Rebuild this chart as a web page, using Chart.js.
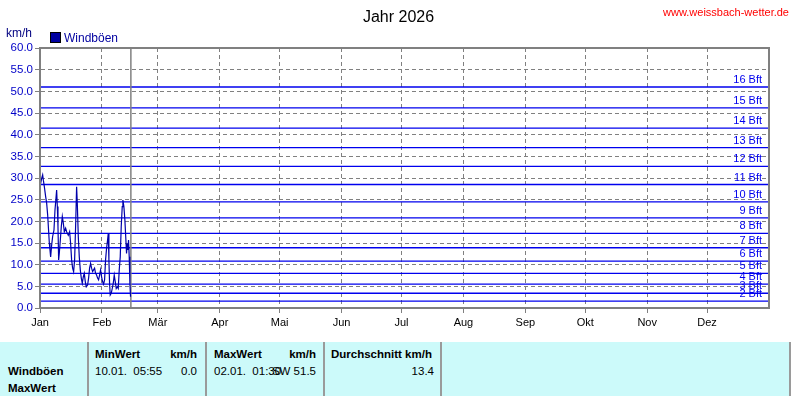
<!DOCTYPE html>
<html>
<head>
<meta charset="utf-8">
<script src="https://cdn.jsdelivr.net/npm/chart.js@4.4.1/dist/chart.umd.min.js"></script>
<style>
body { margin:0; background:#fff; font-family:"Liberation Sans", Arial, sans-serif; }
#wrap { position:relative; width:797px; height:396px; overflow:hidden; }
#box { position:absolute; left:0; top:0; width:797px; height:335px; }
.t { position:absolute; white-space:pre; line-height:1; }
.r { text-align:right; }
.b { font-weight:bold; }
#tab { position:absolute; left:0; top:342px; width:791px; height:54px; background:#ccfafa; font-size:11.5px; color:#000; }
.sep { position:absolute; top:0; width:2px; height:54px; background:#9a9a9a; }
</style>
</head>
<body>
<div id="wrap">
  <div id="box"><canvas id="windChart"></canvas></div>
  <div class="t" style="left:0;width:797px;text-align:center;top:9px;font-size:16px;">Jahr 2026</div>
  <div class="t r" style="right:8px;top:7px;font-size:11px;color:#ff0000;">www.weissbach-wetter.de</div>
  <div class="t" style="left:6px;top:27px;font-size:12px;color:#000080;">km/h</div>
  <div style="position:absolute;left:50px;top:32px;width:9px;height:9px;background:#0000a0;border:1px solid #000;"></div>
  <div class="t" style="left:64px;top:32px;font-size:12px;color:#0000a0;">Windböen</div>

  <div id="tab">
    <div class="t b" style="left:8px;top:24px;">Windböen</div>
    <div class="t b" style="left:8px;top:41px;">MaxWert</div>
    <div class="sep" style="left:87px;"></div>
    <div class="t b" style="left:95px;top:7px;">MinWert</div>
    <div class="t b r" style="left:140px;width:57px;top:7px;">km/h</div>
    <div class="t" style="left:95px;top:24px;">10.01.  05:55</div>
    <div class="t r" style="left:160px;width:37px;top:24px;">0.0</div>
    <div class="sep" style="left:205px;"></div>
    <div class="t b" style="left:214px;top:7px;">MaxWert</div>
    <div class="t b r" style="left:260px;width:56px;top:7px;">km/h</div>
    <div class="t" style="left:214px;top:24px;">02.01.  01:30</div>
    <div class="t r" style="left:270px;width:46px;top:24px;">SW 51.5</div>
    <div class="sep" style="left:323px;"></div>
    <div class="t b" style="left:331px;top:7px;">Durchschnitt km/h</div>
    <div class="t r" style="left:380px;width:54px;top:24px;">13.4</div>
    <div class="sep" style="left:440px;"></div>
    <div class="sep" style="left:789px;"></div>
  </div>
</div>
<script>
// Tage seit 1. Januar
var days = [0, 0.83, 1.33, 1.67, 2.17, 2.83, 3.33, 3.83, 4.33, 4.67, 5, 5.33, 5.83, 6.33, 7, 7.5,
    8, 8.33, 8.67, 9, 9.33, 9.67, 10.17, 10.67, 11.17, 11.67, 12.17, 12.83, 13.33, 14.17, 14.83,
    15.33, 15.83, 16.33, 16.83, 17.33, 17.83, 18.33, 18.67, 19.17, 19.67, 20.17, 20.67, 21.17,
    21.67, 22.17, 22.67, 23.17, 23.83, 24.33, 24.83, 25.33, 25.83, 26.33, 26.83, 27.33, 27.83,
    28.33, 28.83, 29.33, 29.83, 30.33, 30.83, 31.33, 31.83, 32.33, 32.83, 33.33, 33.83, 34.17,
    34.5, 34.83, 35.17, 35.67, 36.17, 36.67, 37.17, 37.67, 38.17, 38.67, 39.17, 39.67, 40.17,
    40.67, 41.17, 41.5, 42, 42.5, 43, 43.33, 43.67, 44, 44.33, 44.67, 45, 45.33];
// Windböen km/h
var gusts = [28.0, 29.9, 30.7, 29.5, 28.0, 25.7, 24.2, 21.5, 17.6, 15.0, 13.4, 11.8, 14.5, 16.5,
    18.0, 22.6, 25.3, 27.2, 23.4, 18.8, 11.1, 12.7, 15.7, 18.8, 21.1, 19.6, 17.6, 18.4, 17.6,
    16.8, 17.6, 14.9, 11.1, 9.2, 8.4, 11.1, 18.8, 28.0, 24.2, 16.5, 11.8, 8.8, 6.9, 5.7, 7.2,
    8.0, 6.1, 4.9, 5.3, 6.9, 9.2, 10.3, 9.2, 8.4, 8.8, 9.2, 8.0, 7.6, 6.9, 6.5, 7.6, 8.8, 7.2,
    6.1, 5.5, 6.5, 11.1, 13.8, 15.7, 17.2, 11.1, 5.7, 3.0, 3.4, 4.5, 5.7, 7.6, 6.1, 4.5, 4.9,
    4.5, 8.8, 11.8, 18.8, 23.4, 24.9, 23.4, 20.3, 15.7, 12.6, 14.9, 13.4, 15.7, 11.8, 5.7, 2.6];

var monthStarts = [0, 31, 59, 90, 120, 151, 181, 212, 243, 273, 304, 334];
var monthNames = ["Jan", "Feb", "Mär", "Apr", "Mai", "Jun", "Jul", "Aug", "Sep", "Okt", "Nov", "Dez"];
var bftLevels = [1.6, 3.4, 5.5, 8.0, 10.8, 13.9, 17.2, 20.8, 24.5, 28.5, 32.7, 37.0, 41.5, 46.2, 51.0];
var bftNames = ["2 Bft", "3 Bft", "4 Bft", "5 Bft", "6 Bft", "7 Bft", "8 Bft", "9 Bft", "10 Bft",
    "11 Bft", "12 Bft", "13 Bft", "14 Bft", "15 Bft", "16 Bft"];
var today = 45.5;

var FONT = '"Liberation Sans", Arial, sans-serif';

var datasets = [{
    label: "Windböen",
    data: days.map(function (d, i) { return {x: d, y: gusts[i]}; }),
    borderColor: "#0000aa",
    borderWidth: 1.2,
    pointRadius: 0,
    order: 0
}, {
    label: "heute",
    data: [{x: today, y: 0}, {x: today, y: 60}],
    borderColor: "#808080",
    borderWidth: 1.5,
    pointRadius: 0,
    order: 1
}];
bftLevels.forEach(function (v, i) {
    datasets.push({
        label: bftNames[i],
        data: [{x: 0, y: v}, {x: 365, y: v}],
        borderColor: "#0000ee",
        borderWidth: 1.3,
        pointRadius: 0,
        order: 2
    });
});

var framePlugin = {
    id: "frame",
    afterDatasetsDraw: function (chart) {
        var ctx = chart.ctx, a = chart.chartArea, y = chart.scales.y;
        ctx.save();
        ctx.font = "11px " + FONT;
        ctx.fillStyle = "#0000ee";
        ctx.textAlign = "right";
        ctx.textBaseline = "alphabetic";
        bftLevels.forEach(function (v, i) {
            ctx.fillText(bftNames[i], a.right - 7, y.getPixelForValue(v) - 4);
        });
        ctx.strokeStyle = "#808080";
        ctx.lineWidth = 2;
        ctx.strokeRect(a.left, a.top, a.right - a.left, a.bottom - a.top);
        ctx.restore();
    }
};

var gridOpts = {color: "#808080", lineWidth: 1, tickLength: 5, tickColor: "#808080", tickBorderDash: []};

var ctx = document.getElementById("windChart").getContext("2d");
new Chart(ctx, {
    type: "line",
    data: {datasets: datasets},
    options: {
        responsive: true,
        maintainAspectRatio: false,
        animation: false,
        layout: {padding: {top: 48, right: 28, left: 0, bottom: 0}},
        plugins: {legend: {display: false}, tooltip: {enabled: false}},
        scales: {
            x: {
                type: "linear",
                min: 0,
                max: 365,
                afterBuildTicks: function (s) {
                    s.ticks = monthStarts.map(function (v) { return {value: v}; });
                },
                afterFit: function (s) { s.height = 27; },
                ticks: {
                    autoSkip: false, maxRotation: 0, color: "#000", padding: 3,
                    font: {size: 11, family: FONT},
                    callback: function (v, i) { return monthNames[i]; }
                },
                grid: gridOpts,
                border: {display: true, color: "#808080", width: 2, dash: [4, 3]}
            },
            y: {
                min: 0,
                max: 60,
                afterFit: function (s) { s.width = 40; },
                ticks: {
                    stepSize: 5, color: "#0000c8", padding: 2,
                    font: {size: 11.5, family: FONT},
                    callback: function (v) { return v.toFixed(1); }
                },
                grid: gridOpts,
                border: {display: true, color: "#808080", width: 2, dash: [4, 3]}
            }
        }
    },
    plugins: [framePlugin]
});
</script>
</body>
</html>
